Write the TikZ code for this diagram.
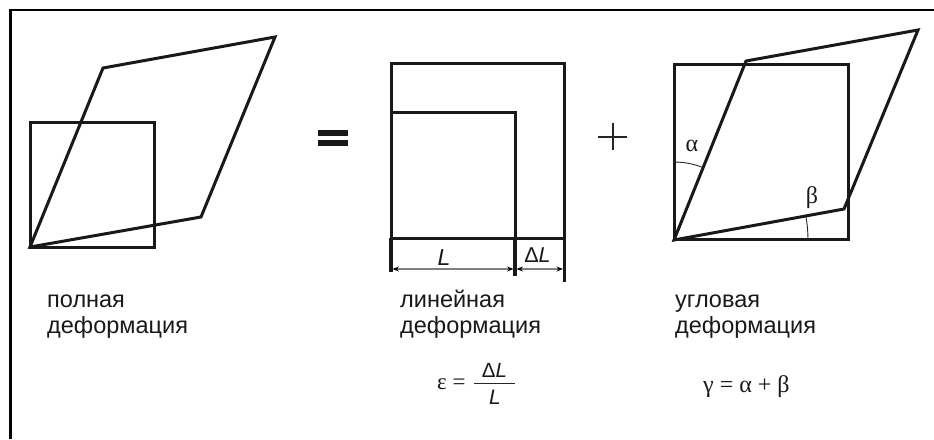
\documentclass[tikz,border=0pt]{standalone}
\usepackage{fontspec}
\setmainfont{Liberation Sans}
\newfontfamily\symf{Liberation Serif}
\newfontfamily\itf{Liberation Sans Italic}
\usetikzlibrary{arrows.meta}
\tikzset{
  x=1pt,y=-1pt,
  frameline/.style={line width=2.4pt,black},
  thickbox/.style={line width=3pt,draw=black!90,line join=miter},
  skewline/.style={line width=3pt,draw=black!90,line join=miter},
  thinarc/.style={line width=0.9pt,draw=black!85},
  dimline/.style={line width=1.2pt,draw=black!50,{Stealth[length=6.5pt,width=5pt,black]}-{Stealth[length=6.5pt,width=5pt,black]}},
  tickline/.style={line width=3.2pt,draw=black!90},
  captxt/.style={align=left,anchor=base west,inner sep=0pt,font=\fontsize{23.5}{26}\selectfont,text=black!90},
  lab/.style={inner sep=0pt,anchor=base,text=black!90},
  greek/.style={inner sep=0pt,anchor=base,font=\fontsize{24}{24}\selectfont\symf,text=black!90},
  formula/.style={inner sep=0pt,anchor=base west,font=\fontsize{23}{23}\selectfont\symf,text=black!90}
}
\begin{document}
\begin{tikzpicture}
\useasboundingbox (0,0) rectangle (934,439);
\coordinate (fb) at (10.5,439); \coordinate (ft) at (10.5,10); \coordinate (fr) at (934,10);
\draw[frameline] (fb) -- (ft) -- (fr);
% left
\draw[thickbox] (30,122) rectangle (154,247);
\draw[skewline] (30,247) -- (103,68) -- (275,37) -- (201,217) -- cycle;
% equals
\fill[black!90] (318,130) rectangle (348,136);
\fill[black!90] (318,140) rectangle (348,146);
% middle
\draw[thickbox] (391,63) rectangle (564.5,238);
\draw[thickbox] (391,112.5) rectangle (515,238);
\draw[tickline] (391,238) -- (391,272);
\draw[tickline] (515,238) -- (515,276);
\draw[tickline] (564.5,238) -- (564.5,282);
\coordinate (d0) at (392.5,269); \coordinate (d1) at (513.5,269); \coordinate (d2) at (516.5,269); \coordinate (d3) at (563,269);
\draw[dimline] (d0) -- (d1);
\draw[dimline] (d2) -- (d3);
\node[lab,font=\fontsize{23}{23}\selectfont\itf] (l1) at (444,265) {L};
\node[lab,font=\fontsize{21.5}{21.5}\selectfont] (l2) at (537.5,262) {Δ{\itf L}};
% plus
\draw[line width=1.2pt,black!85] (598,137) -- (627,137) (613,123) -- (613,150);
% right
\draw[thickbox] (674,64) rectangle (848,239.5);
\draw[skewline] (674,240) -- (746,61) -- (918,30) -- (844,209) -- cycle;
\draw[thinarc] (674,162) arc[start angle=-90,end angle=-68,radius=78];
\draw[thinarc] (808,240) arc[start angle=0,end angle=-10,radius=134];
\node[greek] (a) at (692,151) {α};
\node[greek] (b) at (812,203) {β};
% captions
\node[captxt] (c1) at (47,333) {полная\\деформация};
\node[captxt] (c2) at (400,333) {линейная\\деформация};
\node[captxt] (c3) at (675,333) {угловая\\деформация};
% formulas
\node[formula] (e) at (437,389) {ε =};
\node[lab,font=\fontsize{20.5}{20.5}\selectfont] (n) at (494.5,377) {Δ{\itf L}};
\draw[line width=1pt,black!85] (474,383) -- (515,383);
\node[lab,font=\fontsize{21}{21}\selectfont\itf] (d) at (495,404) {L};
\node[formula,font=\fontsize{24}{24}\selectfont\symf] (g) at (703,392) {γ = α + β};
\end{tikzpicture}
\end{document}
